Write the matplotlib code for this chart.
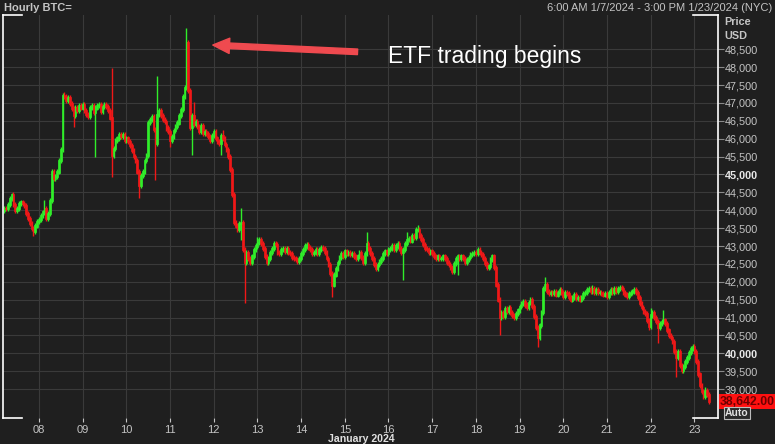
import matplotlib
matplotlib.use('Agg')
import matplotlib.pyplot as plt
import matplotlib.dates as mdates
import pandas as pd
import numpy as np

plt.rcParams['font.family'] = ['Liberation Sans', 'DejaVu Sans']

# hourly closes, first candle Jan 7 05:00
first_open = 44000
closes = [
    44060, 44050, 44170, 44340, 44430, 44150, 44000, 44060, 44200, 44230,
    44190, 44140, 43920, 43780, 43640, 43500, 43400, 43560, 43680, 43730,
    43850, 43950, 44060, 43780, 43920, 44280, 45070, 44900, 44950, 45070,
    45400, 45700, 47200, 47180, 47080, 47150, 46990, 46840, 46660, 46880,
    46800, 46920, 46860, 46970, 46800, 46690, 46610, 46860, 46940, 46740,
    46860, 46920, 46970, 46750, 46890, 46970, 46890, 46800, 46580, 45540,
    45720, 45960, 46020, 46130, 46070, 46130, 45960, 46020, 45910, 45800,
    45680, 45490, 45400, 45070, 44700, 44960, 45070, 45400, 45540, 46460,
    46540, 46610, 46250, 45860, 46690, 46800, 46640, 46550, 46470, 46300,
    46190, 45960, 46070, 46220, 46330, 46440, 46660, 46830, 47190, 47420,
    48680, 47360, 46310, 46660, 46390, 46470, 46330, 46190, 46360, 46140,
    46190, 46140, 46050, 45960, 46080, 46190, 46020, 45910, 45880, 46080,
    46020, 45850, 45710, 45490, 45130, 44430, 43670, 43560, 43450, 43620,
    43670, 42890, 42550, 42830, 42660, 42550, 42720, 42890, 43000, 43110,
    43170, 43080, 42940, 42720, 42550, 42660, 42830, 42940, 43080, 43030,
    42830, 42780, 42890, 42940, 42860, 42920, 42830, 42780, 42690, 42660,
    42610, 42580, 42660, 42780, 42910, 43000, 43050, 42970, 42890, 42800,
    42830, 42890, 42800, 42890, 42970, 42940, 42830, 42660, 42470, 42220,
    41910, 42190, 42380, 42550, 42690, 42800, 42720, 42860, 42780, 42830,
    42750, 42780, 42720, 42660, 42720, 42830, 42690, 42550, 42780, 43080,
    42940, 42800, 42660, 42490, 42380, 42490, 42580, 42660, 42780, 42860,
    42780, 42890, 42940, 43000, 42890, 43000, 43080, 42940, 42830, 42890,
    43060, 43170, 43220, 43140, 43280, 43250, 43450, 43450, 43280, 43170,
    43030, 42940, 42890, 42830, 42860, 42780, 42720, 42660, 42720, 42640,
    42660, 42720, 42640, 42550, 42470, 42390, 42300, 42500, 42640, 42720,
    42660, 42720, 42640, 42550, 42610, 42690, 42750, 42780, 42830, 42800,
    42890, 42830, 42750, 42660, 42500, 42390, 42440, 42610, 42720, 42390,
    41910, 41490, 40990, 41150, 41040, 41240, 41180, 41270, 41150, 41070,
    41010, 41100, 41210, 41320, 41400, 41460, 41350, 41270, 41430, 41490,
    41320, 41040, 40710, 40430, 40790, 41150, 41820, 41910, 41740, 41680,
    41710, 41660, 41740, 41630, 41690, 41770, 41690, 41600, 41710, 41660,
    41570, 41490, 41550, 41630, 41520, 41570, 41490, 41570, 41660, 41710,
    41770, 41800, 41740, 41820, 41710, 41770, 41690, 41710, 41660, 41630,
    41660, 41600, 41710, 41770, 41690, 41800, 41740, 41820, 41850, 41800,
    41690, 41630, 41600, 41660, 41710, 41740, 41770, 41710, 41550, 41400,
    41290, 41180, 41100, 40930, 40760, 41070, 41150, 40990, 40880, 40710,
    40820, 40880, 40930, 40820, 40650, 40510, 40430, 40320, 40040, 39870,
    40040, 39670, 39530, 39640, 39760, 39870, 40010, 40120, 40180, 40040,
    39760, 39420, 39110, 38920, 38800, 38970, 38860, 38642,
]

# long wicks that stick out of the bodies
wick_highs = {4: 44480, 22: 44290, 33: 47310, 59: 47980, 84: 47750, 100: 49100,
              104: 47030, 120: 46240, 130: 44060, 139: 43250, 199: 43380,
              221: 43400, 227: 43590, 297: 42130, 323: 41920, 339: 41910,
              355: 41270, 362: 41210, 385: 39060}
wick_lows = {16: 43280, 38: 46330, 50: 45490, 59: 44930, 74: 44340, 83: 44850,
             91: 45770, 103: 45540, 119: 45540, 130: 43170, 132: 41410,
             180: 41580, 219: 42050, 249: 42190, 272: 40510, 293: 40180,
             354: 40650, 359: 40290, 369: 39340}

last_price = 38642.00
day_labels = ['08', '09', '10', '11', '12', '13', '14', '15', '16', '17',
              '18', '19', '20', '21', '22', '23']
price_ticks = list(range(39000, 49000, 500))

times = pd.date_range('2024-01-07 05:00', periods=len(closes), freq='h')
x = mdates.date2num(times)
closes = np.array(closes, dtype=float)
opens = np.concatenate([[first_open], closes[:-1]])
highs = np.maximum(opens, closes) + 70
lows = np.minimum(opens, closes) - 70
for i, v in wick_highs.items():
    highs[i] = v
for i, v in wick_lows.items():
    lows[i] = v

GREEN = '#30ee2a'
RED = '#f01818'
BG = '#1f1f1f'
GRID = '#3a3a3a'
TXT = '#c4c4c4'

fig = plt.figure(figsize=(7.75, 4.44), dpi=100, facecolor=BG)
ax = fig.add_axes([3 / 775, 26 / 444, 715 / 775, 403 / 444])
ax.set_facecolor(BG)

up = closes >= opens
cols = np.where(up, GREEN, RED)
w = 0.9 / 24
ax.vlines(x, lows, highs, colors=cols, linewidth=1.0, zorder=2)
ax.bar(x, np.abs(closes - opens) + 30, bottom=np.minimum(opens, closes) - 15,
       width=w, color=cols, edgecolor=cols, linewidth=0.5, zorder=3)

ax.set_xlim(mdates.date2num(pd.Timestamp('2024-01-07 04:15')),
            mdates.date2num(pd.Timestamp('2024-01-23 13:00')))
ax.set_ylim(38190, 49460)

day_ticks = mdates.date2num(pd.date_range('2024-01-08', periods=len(day_labels), freq='D'))
ax.set_xticks(day_ticks, labels=day_labels)
ax.set_yticks(price_ticks, labels=[f'{p:,}' for p in price_ticks])
ax.yaxis.tick_right()
ax.grid(True, color=GRID, linewidth=0.8)
ax.set_axisbelow(True)
ax.tick_params(axis='x', colors=TXT, labelsize=8, length=3, pad=2)
ax.tick_params(axis='y', colors='#8a8a8a', labelcolor=TXT, labelsize=7.8, length=4, pad=1)
for lab in ax.get_yticklabels():
    if lab.get_text() in ('40,000', '45,000'):
        lab.set_fontweight('bold')
        lab.set_color('#e8e8e8')

for s in ['top', 'bottom']:
    ax.spines[s].set_visible(False)
for s in ['left', 'right']:
    ax.spines[s].set_color('white')
    ax.spines[s].set_linewidth(1.2)
# short corner marks on top and bottom edges
for yy in (0, 1):
    ax.plot([0, 19 / 715], [yy, yy], color='white', lw=1.2, transform=ax.transAxes, clip_on=False)
    ax.plot([690 / 715, 1], [yy, yy], color='white', lw=1.2, transform=ax.transAxes, clip_on=False)

# last price box and Auto button
trans = ax.get_yaxis_transform()
ax.text(1.003, last_price, f'{last_price:,.2f}', transform=trans, ha='left', va='center',
        fontsize=8.8, fontweight='bold', color='#6e0000',
        bbox=dict(boxstyle='square,pad=0.12', facecolor='#ff1010', edgecolor='none'))
fig.text(725 / 775, 1 - 413 / 444, 'Auto', ha='left', va='center', fontsize=7.5,
         fontweight='bold', color='#e0e0e0',
         bbox=dict(boxstyle='square,pad=0.1', facecolor='#2a2a2a', edgecolor='#bdbdbd', lw=0.8))

# header
fig.text(4 / 775, 1 - 8 / 444, 'Hourly BTC=', ha='left', va='center', fontsize=8,
         fontweight='bold', color=TXT)
fig.text(772 / 775, 1 - 8 / 444, '6:00 AM 1/7/2024 - 3:00 PM 1/23/2024 (NYC)', ha='right',
         va='center', fontsize=8, color=TXT)
fig.text(724 / 775, 1 - 22 / 444, 'Price', ha='left', va='center', fontsize=7.8,
         fontweight='bold', color=TXT)
fig.text(724 / 775, 1 - 36 / 444, 'USD', ha='left', va='center', fontsize=7.8,
         fontweight='bold', color=TXT)
fig.text(361 / 775, 1 - 438.5 / 444, 'January 2024', ha='center', va='center', fontsize=7.6,
         fontweight='bold', color='#e0e0e0')

# annotation
tip = mdates.date2num(pd.Timestamp('2024-01-11 23:30'))
tail = mdates.date2num(pd.Timestamp('2024-01-15 07:00'))
ax.annotate('', xy=(tip, 48620), xytext=(tail, 48430),
            arrowprops=dict(arrowstyle='simple,head_length=0.6,head_width=0.55,tail_width=0.2',
                            color='#ef4a4f', mutation_scale=20, shrinkA=0, shrinkB=0))
ax.text(mdates.date2num(pd.Timestamp('2024-01-15 23:30')), 48310, 'ETF trading begins',
        ha='left', va='center', fontsize=16.5, color='white')

fig.savefig('out.png', dpi=100, facecolor=BG)
